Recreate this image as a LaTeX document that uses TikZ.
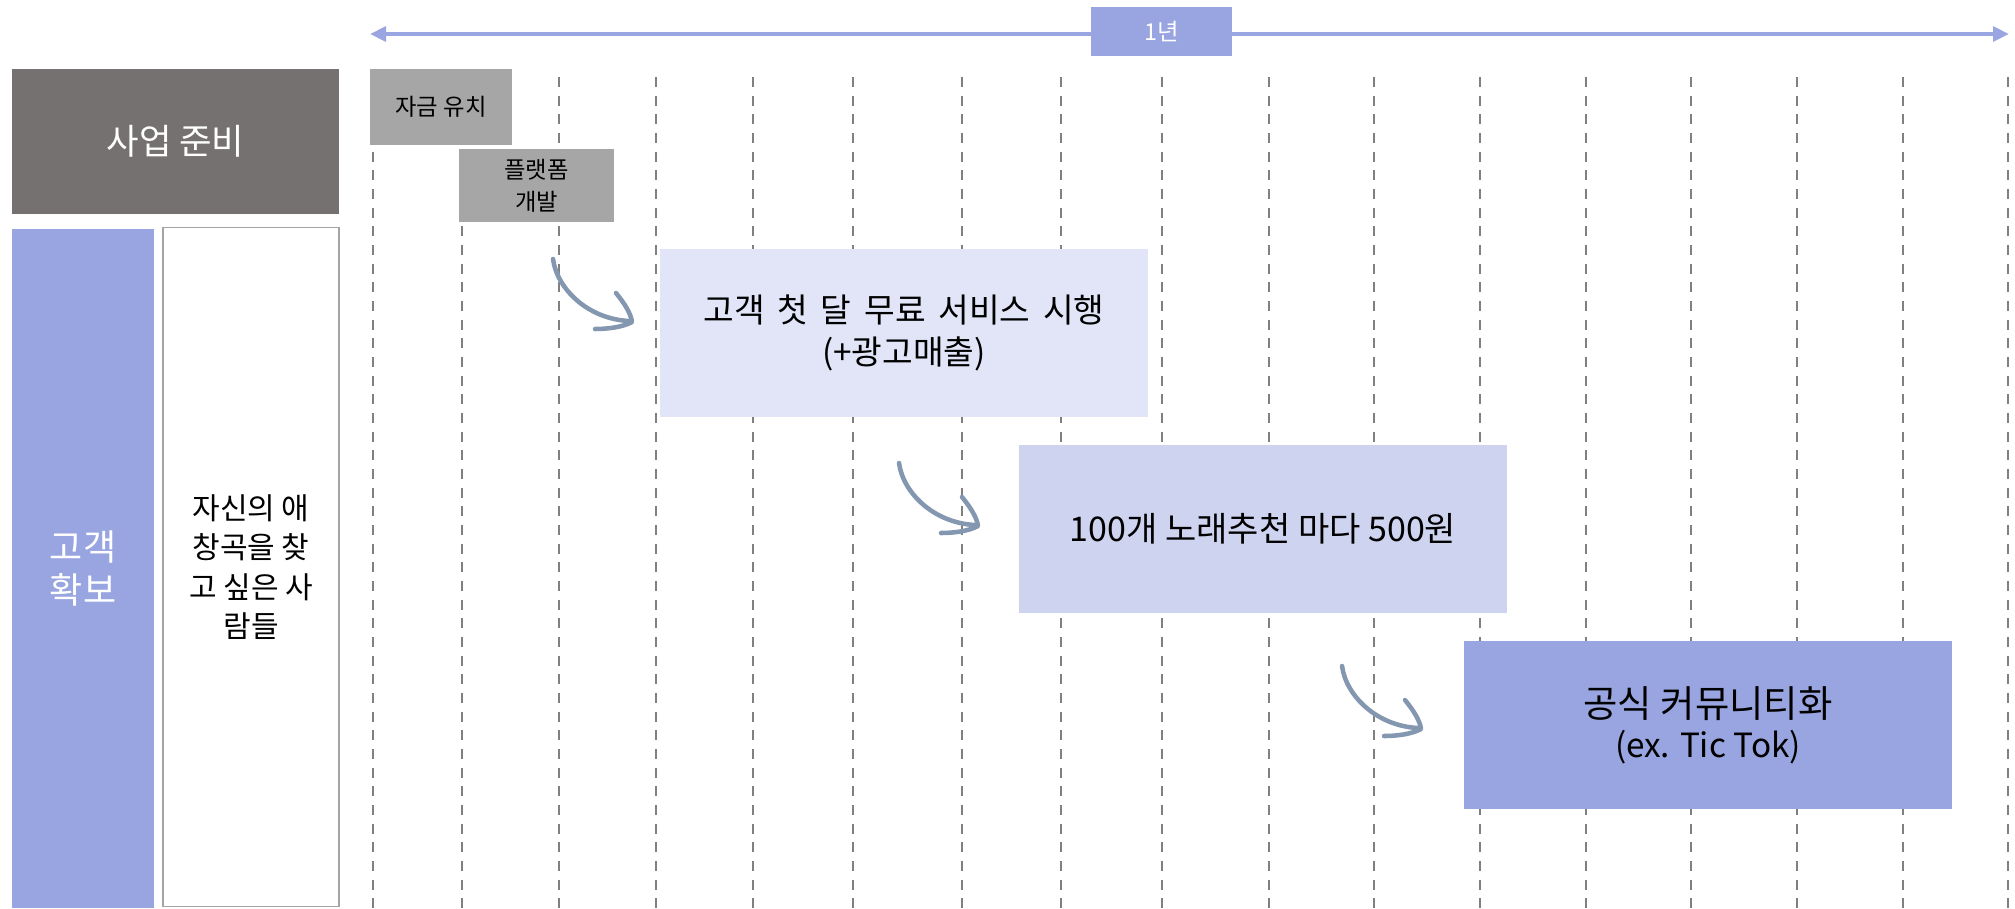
\documentclass[tikz,border=0pt]{standalone}
\usepackage{fontspec}
\setmainfont{Noto Sans CJK KR}
\newfontfamily\widesp{Noto Sans CJK KR}[WordSpace=1.7]
\usetikzlibrary{arrows.meta}
\definecolor{periw}{RGB}{153,165,224}
\definecolor{periwA}{RGB}{154,166,225}
\definecolor{lightA}{RGB}{225,229,247}
\definecolor{lightB}{RGB}{206,211,240}
\definecolor{grayBox}{RGB}{166,166,166}
\definecolor{darkBox}{RGB}{118,113,113}
\definecolor{curveC}{RGB}{132,151,176}
\definecolor{dashC}{RGB}{128,128,128}
\definecolor{borderC}{RGB}{165,165,165}
\tikzset{
  plain/.style={inner sep=0pt, align=center, anchor=center},
  stagebox/.style={plain, minimum width=366pt, minimum height=126pt},
  grid/.style={draw=dashC, line width=1.5pt, dash pattern=on 7.5pt off 6.5pt},
  swoosh/.style={draw=curveC, line width=3.4pt, line cap=round, line join=round},
  fs/.style 2 args={font=\fontsize{#1}{#2}\selectfont}
}
\begin{document}
\begin{tikzpicture}[x=0.75pt,y=-0.75pt]
\useasboundingbox (0,0) rectangle (2015,908);
% dashed grid
\foreach \gx in {373,462,559,656,753,853,962,1061,1162,1269,1374,1480,1586,1691,1797,1903,2008}
  \draw[grid] (\gx,77) -- (\gx,908);
% timeline arrow
\coordinate (tl) at (370,34);
\coordinate (tr) at (2009,34);
\draw[draw=periwA, line width=3pt, {Triangle[length=12pt,width=11pt]}-{Triangle[length=12pt,width=11pt]}] (tl) -- (tr);
\node[plain, fill=periw, minimum width=105.75pt, minimum height=36.75pt, text=white, fs={17.5}{21}] (year) at (1161.5,31.5) {1년};
% left column
\node[plain, fill=darkBox, minimum width=245.25pt, minimum height=108.75pt, text=white, fs={26.5}{32}] (prep) at (175.5,141.5) {사업 준비};
\node[plain, fill=periw, minimum width=106.5pt, minimum height=509.25pt, text=white, fs={27}{32}] (cust) at (83,568.5) {고객\\확보};
\node[plain, fill=white, draw=borderC, line width=1.1pt, minimum width=132pt, minimum height=509.25pt, fs={22.5}{29.6}] (target) at (251,567) {자신의 애\\창곡을 찾\\고 싶은 사\\람들};
% small gray boxes
\node[plain, fill=grayBox, minimum width=106.5pt, minimum height=57pt, fs={17.5}{21}] (fund) at (441,107) {자금 유치};
\node[plain, fill=grayBox, minimum width=116.25pt, minimum height=54.75pt, fs={17.5}{24}] (dev) at (536.5,185.5) {플랫폼\\개발};
% stage boxes
\node[stagebox, fill=lightA, font=\widesp\fontsize{25}{31}\selectfont] (s1) at (904,333) {고객 첫 달 무료 서비스 시행\\(+광고매출)};
\node[stagebox, fill=lightB, fs={25.5}{30}] (s2) at (1263,529) {100개 노래추천 마다 500원};
\node[stagebox, fill=periw, fs={28}{30}] (s3) at (1708,725) {공식 커뮤니티화\\{\fontsize{25}{30}\selectfont (ex. Tic Tok)}};
% hand drawn arrows
\foreach \sx/\sy [count=\i] in {553/259, 899/463, 1342/666}{
  \coordinate (a\i) at (\sx,\sy);
  \begin{scope}[shift={(a\i)}]
    \draw[swoosh] (0,0) .. controls (4,30) and (35,60) .. (76,62);
    \draw[swoosh] (63,34) .. controls (72,45) and (78,55) .. (79,63) .. controls (70,68) and (55,70) .. (42,70);
  \end{scope}
}
\end{tikzpicture}
\end{document}
